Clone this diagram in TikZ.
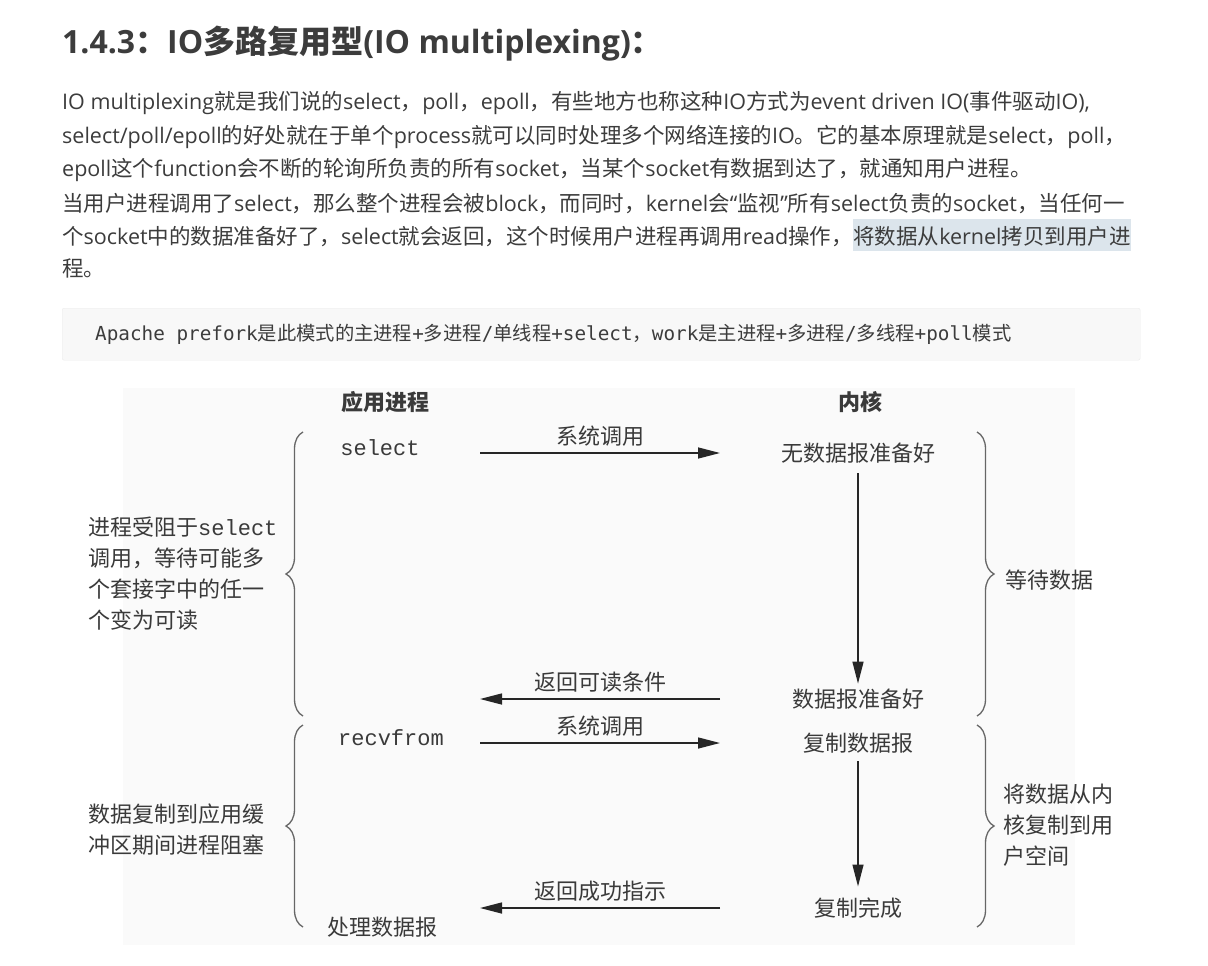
\documentclass[tikz,border=0pt]{standalone}
\usepackage{fontspec}
\setmainfont{Open Sans}
\setmonofont{DejaVu Sans Mono}
\newfontfamily\cjk{Noto Sans CJK SC}
\newfontfamily\courier{Liberation Mono}
\usetikzlibrary{arrows.meta,positioning,decorations.pathreplacing,calc}
\definecolor{txt}{RGB}{60,60,60}
\definecolor{fig}{RGB}{58,58,58}
\definecolor{codebg}{RGB}{248,248,248}
\definecolor{codeedge}{RGB}{236,236,236}
\definecolor{hilite}{RGB}{220,229,236}
\definecolor{figbg}{RGB}{250,250,250}
% Chinese characters switch to the CJK font by themselves
\XeTeXinterchartokenstate=1
\newXeTeXintercharclass\zhclass
\newcount\zhcode
\def\zhrange#1#2{\zhcode=#1 \loop\XeTeXcharclass\zhcode=\zhclass \ifnum\zhcode<#2 \advance\zhcode by 1 \repeat}
\zhrange{"3000}{"303F}
\zhrange{"4E00}{"9FFF}
\zhrange{"FF00}{"FFEF}
\def\latinfont{\rmfamily}
\XeTeXinterchartoks 0 \zhclass = {\cjk}
\XeTeXinterchartoks 4095 \zhclass = {\cjk}
\XeTeXinterchartoks \zhclass 0 = {\latinfont}
\XeTeXinterchartoks 4095 0 = {\latinfont}
\begin{document}
\begin{tikzpicture}[x=1pt,y=-1pt,
title/.style={anchor=base west,inner sep=0pt,text=txt,font=\bfseries\fontsize{32}{38}\selectfont},
bodyline/.style={anchor=base west,inner sep=0pt,text=txt,font=\fontsize{21.5}{33}\selectfont},
codetext/.style={anchor=base west,inner sep=0pt,text=txt,font={\def\latinfont{\ttfamily}\ttfamily\fontsize{19.3}{24}\selectfont}},
colhead/.style={inner sep=0pt,text=fig,font=\bfseries\fontsize{22}{26}\selectfont},
fignode/.style={inner sep=0pt,text=fig,font={\def\latinfont{\courier}\courier\fontsize{22}{31}\selectfont}},
side/.style={fignode,align=left,anchor=west},
lbl/.style={fignode,midway,above=6pt},
arr/.style={-{Triangle[length=22pt,width=11pt]},line width=1.4pt,draw=black!85},
curly/.style={decorate,decoration={brace,amplitude=17pt},line width=1.3pt,draw=black!60}]
\useasboundingbox (0,0) rectangle (1208,966);
\fill[white] (0,0) rectangle (1208,966);
% heading and text
\node[title](heading) at (62,54){1.4.3：IO多路复用型(IO multiplexing)：};
\node[bodyline](p1) at (62,110){IO multiplexing就是我们说的select，poll，epoll，有些地方也称这种IO方式为event driven IO(事件驱动IO),};
\node[bodyline](p2) at (62,143){select/poll/epoll的好处就在于单个process就可以同时处理多个网络连接的IO。它的基本原理就是select，poll，};
\node[bodyline](p3) at (62,176){epoll这个function会不断的轮询所负责的所有socket，当某个socket有数据到达了，就通知用户进程。};
\node[bodyline](p4) at (62,211){当用户进程调用了select，那么整个进程会被block，而同时，kernel会“监视”所有select负责的socket，当任何一};
\node[bodyline](p5a) at (62,244){个socket中的数据准备好了，select就会返回，这个时候用户进程再调用read操作，};
\node[bodyline,fill=hilite,text height=25pt,text depth=7pt](p5b) at (p5a.base east){将数据从kernel拷贝到用户进};
\node[bodyline](p6) at (62,276){程。};
% code box
\node[draw=codeedge,fill=codebg,rounded corners=2pt,anchor=north west,inner sep=0pt,minimum width=1078pt,minimum height=52pt](codebox) at (62,308){};
\node[codetext](code) at (95,340){Apache prefork是此模式的主进程+多进程/单线程+select，work是主进程+多进程/多线程+poll模式};
% figure
\fill[figbg] (123,388) rectangle (1075,945);
\node[colhead](app) at (385,402){应用进程};
\node[colhead](kernel) at (860,402){内核};
\node[fignode](select) at (380,448){select};
\node[fignode](recv) at (391,738){recvfrom};
\node[fignode](handle) at (382,927){处理数据报};
\node[fignode](nodata) at (858,453){无数据报准备好};
\node[fignode](ready) at (858,699){数据报准备好};
\node[fignode](copy) at (858,743){复制数据报};
\node[fignode](done) at (858,908){复制完成};
\coordinate (appR) at (480,0);
\coordinate (kerL) at (720,0);
\draw[arr](appR |- nodata)--(kerL |- nodata)node[lbl]{系统调用};
\draw[arr](kerL |- ready)--(appR |- ready)node[lbl]{返回可读条件};
\draw[arr](appR |- copy)--(kerL |- copy)node[lbl]{系统调用};
\draw[arr](kerL |- done)--(appR |- done)node[lbl]{返回成功指示};
\draw[arr,shorten <=10pt,shorten >=5pt](nodata)--(ready);
\draw[arr,shorten <=8pt,shorten >=11pt](copy)--(done);
% braces and their notes
\draw[curly](303,716)--(303,432);
\draw[curly](303,927)--(303,725);
\draw[curly](977,432)--(977,716);
\draw[curly](977,725)--(977,927);
\node[side](waitnote) at (88,574){进程受阻于select\\调用，等待可能多\\个套接字中的任一\\个变为可读};
\node[side](copynote) at (88,830){数据复制到应用缓\\冲区期间进程阻塞};
\node[side](waitdata) at (1005,580){等待数据};
\node[side](copydata) at (1003,825){将数据从内\\核复制到用\\户空间};
\end{tikzpicture}
\end{document}
